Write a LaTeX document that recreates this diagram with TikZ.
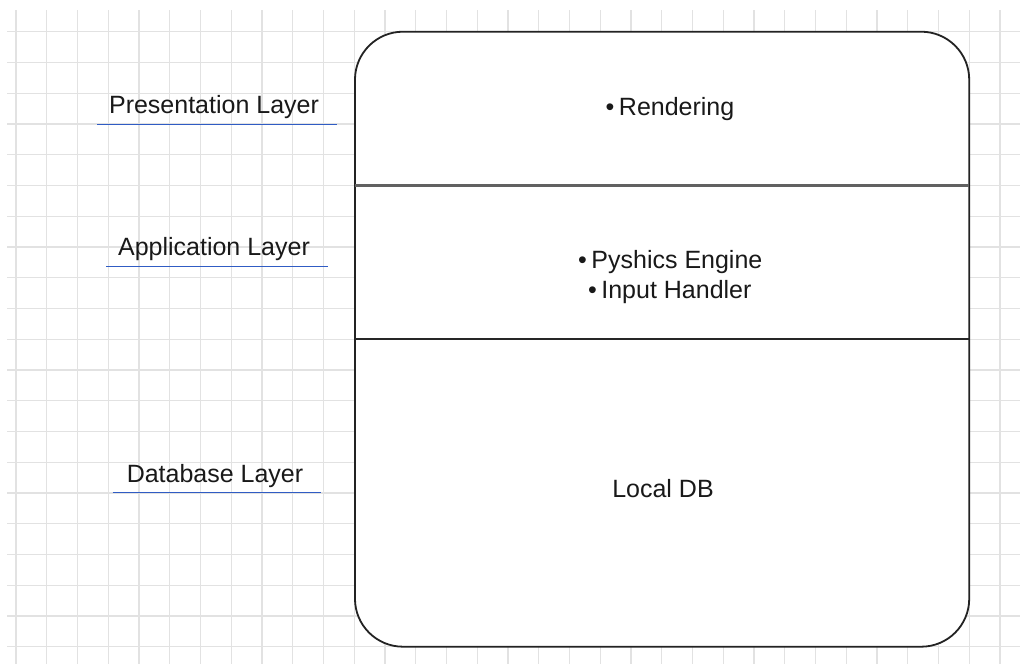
\documentclass[tikz,border=0pt]{standalone}
\usepackage{fontspec}
\setmainfont{Liberation Sans}
\definecolor{gridgray}{RGB}{226,226,226}
\definecolor{inkblue}{RGB}{48,92,196}
\definecolor{textink}{RGB}{25,25,25}
\definecolor{edgeink}{RGB}{35,35,35}
\begin{document}
\begin{tikzpicture}[x=1pt,y=-1pt,
  gridline/.style={draw=gridgray,line width=1.2pt},
  layerbox/.style={draw=edgeink,fill=white,line width=1.8pt,rounded corners=48pt,
    inner sep=0pt,outer sep=0pt},
  divider/.style={line width=2.2pt},
  uline/.style={draw=inkblue,line width=1.5pt},
  txt/.style={anchor=base,inner sep=0pt,text=textink,
    font=\fontsize{25}{30}\selectfont},
]
\useasboundingbox (0,0) rectangle (1020,664);
\fill[white] (0,0) rectangle (1020,664);

% background grid
\foreach \k in {0,...,32}
  \draw[gridline] ({16+30.75*\k},10) -- ({16+30.75*\k},664);
\foreach \k in {0,...,20}
  \draw[gridline] (7,{31.7+30.75*\k}) -- (1020,{31.7+30.75*\k});

% the layered container
\node[layerbox,minimum width=614.25pt,minimum height=615pt] (stack)
  at (662.1,339.2) {};
\coordinate (d1l) at (355,185.5);
\coordinate (d1r) at (969.25,185.5);
\coordinate (d2l) at (355,339.2);
\coordinate (d2r) at (969.25,339.2);
\draw[divider,draw=black!62] (d1l) -- (d1r);
\draw[divider,draw=black!85] (d2l) -- (d2r);

% contents of each layer
\node[txt] (render) at (670,115) {•\hspace{4.5pt}Rendering};
\node[txt] (physics) at (670.3,268.3) {•\hspace{4.5pt}Pyshics Engine};
\node[txt] (input) at (669.8,298.3) {•\hspace{4.5pt}Input Handler};
\node[txt] (localdb) at (663,497) {Local DB};

% layer captions with underlines
\node[txt] (pres) at (214,113) {Presentation Layer};
\coordinate (pres1) at (97,124.3);
\coordinate (pres2) at (337,124.3);
\draw[uline] (pres1) -- (pres2);

\node[txt] (app) at (214,255) {Application Layer};
\coordinate (app1) at (106,266.7);
\coordinate (app2) at (328.3,266.7);
\draw[uline] (app1) -- (app2);

\node[txt] (dbl) at (215,482.7) {Database Layer};
\coordinate (dbl1) at (112.7,492.3);
\coordinate (dbl2) at (320.7,492.3);
\draw[uline] (dbl1) -- (dbl2);
\end{tikzpicture}
\end{document}
